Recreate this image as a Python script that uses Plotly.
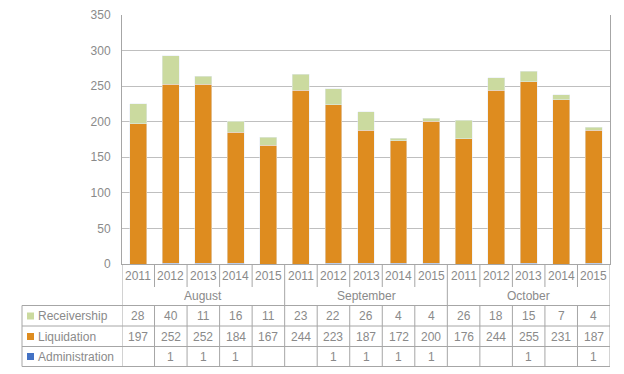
import plotly.graph_objects as go

months = ["August", "September", "October"]
years = ["2011", "2012", "2013", "2014", "2015"]
receivership = [28, 40, 11, 16, 11, 23, 22, 26, 4, 4, 26, 18, 15, 7, 4]
liquidation = [197, 252, 252, 184, 167, 244, 223, 187, 172, 200, 176, 244, 255, 231, 187]
administration = [None, 1, 1, 1, None, None, 1, 1, 1, 1, None, None, 1, None, 1]

C_REC = "#CBDA9F"
C_LIQ = "#DE8C1F"
C_ADM = "#4472C4"
TXT = "#8A8A8A"
LINE = "#A6A6A6"
FONT = "Liberation Sans"

n = len(receivership)
xs = list(range(n))
W, H = 624, 374
L, R, T, B = 122, 14, 15, 110
PW = W - L - R
PH = H - T - B


def py(pix):
    return (H - B - pix) / PH


def px(pix):
    return (pix - L) / PW


fig = go.Figure()
fig.add_bar(x=xs, y=[v or 0 for v in administration], marker_color=C_ADM, name="Administration", width=0.52)
fig.add_bar(x=xs, y=liquidation, marker_color=C_LIQ, name="Liquidation", width=0.52)
fig.add_bar(x=xs, y=receivership, marker_color=C_REC, name="Receivership", width=0.52)

shapes = []
ann = []
line = dict(color=LINE, width=1)

# year row separators
for b in range(n + 1):
    xb = b - 0.5
    if b in (0, n):
        y1 = 366.5
    elif b % 5 == 0:
        y1 = 305.5
    else:
        y1 = 287
    shapes.append(dict(type="line", xref="x", yref="paper", x0=xb, x1=xb, y0=py(264), y1=py(y1), line=line))
    if b not in (0, n):
        shapes.append(dict(type="line", xref="x", yref="paper", x0=xb, x1=xb, y0=py(305.5), y1=py(366.5), line=line))

# horizontal table lines
for yp in (305.5, 326, 346.5, 366.5):
    shapes.append(dict(type="line", xref="paper", yref="paper", x0=px(22), x1=1, y0=py(yp), y1=py(yp), line=line))
shapes.append(dict(type="line", xref="paper", yref="paper", x0=px(22), x1=px(22), y0=py(305.5), y1=py(366.5), line=line))


def label(x, y, text, xref="x", xanchor="center"):
    ann.append(dict(x=x, y=y, xref=xref, yref="paper", text=text, showarrow=False,
                    xanchor=xanchor, yanchor="middle",
                    font=dict(size=12, color=TXT, family=FONT)))


# year labels and month labels
for i in xs:
    label(i, py(276), years[i % 5])
for m, name in enumerate(months):
    label(m * 5 + 2, py(296), name)

rows = [("Receivership", receivership, C_REC, 316), ("Liquidation", liquidation, C_LIQ, 336.5),
        ("Administration", administration, C_ADM, 356.5)]
for name, vals, col, yc in rows:
    shapes.append(dict(type="rect", xref="paper", yref="paper", x0=px(27), x1=px(34),
                       y0=py(yc - 3.5), y1=py(yc + 3.5), fillcolor=col, line=dict(width=0)))
    label(px(36), py(yc), name, xref="paper", xanchor="left")
    for i, v in enumerate(vals):
        if v is None:
            continue
        label(i, py(yc), str(v))

fig.update_layout(
    width=W, height=H, margin=dict(l=L, r=R, t=T, b=B, autoexpand=False),
    barmode="stack", showlegend=False,
    plot_bgcolor="white", paper_bgcolor="white",
    shapes=shapes, annotations=ann,
    font=dict(family=FONT, color=TXT, size=12),
)
fig.update_xaxes(range=[-0.5, n - 0.5], showticklabels=False, showgrid=False, zeroline=False,
                 showline=True, linecolor=LINE, linewidth=1, mirror=False, fixedrange=True)
fig.update_yaxes(range=[0, 350], dtick=50, showgrid=True, gridcolor="#BFBFBF", gridwidth=1,
                 zeroline=False, showline=True, linecolor=LINE, linewidth=1, mirror=True,
                 tickfont=dict(size=12, color=TXT, family=FONT), ticklabelstandoff=8, fixedrange=True)

fig.write_html("out.html", config={"displayModeBar": False},
               post_script="document.body.style.margin='0';")
